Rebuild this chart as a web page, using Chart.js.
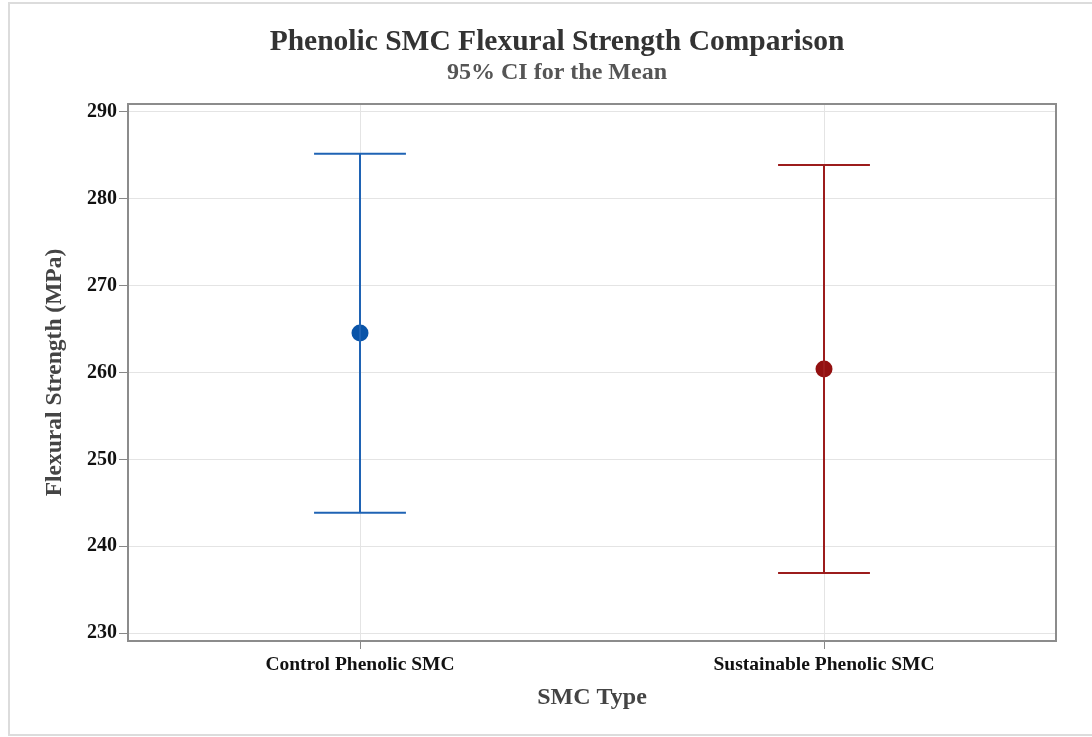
<!DOCTYPE html>
<html>
<head>
<meta charset="utf-8">
<script src="https://cdn.jsdelivr.net/npm/chart.js@4.4.0/dist/chart.umd.min.js"></script>
<style>
  html, body { margin: 0; padding: 0; background: #fff; }
  #wrap { width: 1092px; height: 737px; }
</style>
</head>
<body>
<div id="wrap"><canvas id="chart" width="1092" height="737"></canvas></div>
<script>
// données
const categories = ['Control Phenolic SMC', 'Sustainable Phenolic SMC'];
const moyennes = [264.55, 260.4];
const bornesBasses = [243.85, 236.9];
const bornesHautes = [285.2, 283.9];
const couleurs = ['#1f63b4', '#9c1c1c'];
const couleursPoint = ['#0a54a8', '#931010'];
const yTicks = [230, 240, 250, 260, 270, 280, 290];

const demiCapuchon = 0.099; // demi-largeur des barres d'erreur, en unité de catégorie

// un jeu de données par élément (trait vertical, capuchons, point moyen)
const datasets = [];
categories.forEach((cat, i) => {
  datasets.push({
    type: 'line',
    data: [{ x: i, y: bornesBasses[i] }, { x: i, y: bornesHautes[i] }],
    borderColor: couleurs[i], borderWidth: 2, pointRadius: 0, fill: false
  });
  datasets.push({
    type: 'line',
    data: [{ x: i - demiCapuchon, y: bornesHautes[i] }, { x: i + demiCapuchon, y: bornesHautes[i] }],
    borderColor: couleurs[i], borderWidth: 2, pointRadius: 0, fill: false
  });
  datasets.push({
    type: 'line',
    data: [{ x: i - demiCapuchon, y: bornesBasses[i] }, { x: i + demiCapuchon, y: bornesBasses[i] }],
    borderColor: couleurs[i], borderWidth: 2, pointRadius: 0, fill: false
  });
  datasets.push({
    type: 'scatter',
    data: [{ x: i, y: moyennes[i] }],
    pointStyle: 'circle', pointRadius: 8.5,
    backgroundColor: couleursPoint[i], borderColor: couleursPoint[i], borderWidth: 0
  });
});

// cadre autour de la zone de tracé + bordure extérieure claire
const cadre = {
  id: 'cadre',
  beforeDraw(chart) {
    const ctx = chart.ctx;
    ctx.save();
    ctx.fillStyle = '#fff';
    ctx.fillRect(0, 0, chart.width, chart.height);
    ctx.strokeStyle = '#dcdcdc';
    ctx.lineWidth = 2;
    ctx.strokeRect(9, 3, chart.width + 10, chart.height - 5);
    ctx.restore();
  },
  afterDraw(chart) {
    const a = chart.chartArea;
    const ctx = chart.ctx;
    ctx.save();
    ctx.strokeStyle = '#8c8c8c';
    ctx.lineWidth = 2;
    ctx.strokeRect(a.left, a.top, a.right - a.left, a.bottom - a.top);
    ctx.restore();
  }
};

new Chart(document.getElementById('chart').getContext('2d'), {
  data: { datasets },
  options: {
    responsive: false,
    animation: false,
    layout: { padding: { left: 58, right: 36, top: 0, bottom: 15 } },
    plugins: {
      legend: { display: false },
      tooltip: { enabled: false },
      title: {
        display: true,
        text: 'Phenolic SMC Flexural Strength Comparison',
        color: '#333',
        font: { family: 'Liberation Serif', size: 29.5, weight: 'bold' },
        padding: { top: 25, bottom: -2 }
      },
      subtitle: {
        display: true,
        text: '95% CI for the Mean',
        color: '#555',
        font: { family: 'Liberation Serif', size: 24, weight: 'bold' },
        padding: { top: 0, bottom: 16.8 }
      }
    },
    scales: {
      x: {
        type: 'linear',
        min: -0.5,
        max: 1.5,
        afterBuildTicks: (s) => { s.ticks = categories.map((c, i) => ({ value: i })); },
        afterFit: (s) => { s.height = 81; },
        ticks: {
          callback: (v) => categories[v],
          color: '#111',
          font: { family: 'Liberation Serif', size: 19.5, weight: 'bold' },
          padding: 4,
          maxRotation: 0
        },
        grid: { color: '#e4e4e4', lineWidth: 1, tickLength: 8, tickColor: '#888' },
        border: { display: false },
        title: {
          display: true,
          text: 'SMC Type',
          color: '#444',
          font: { family: 'Liberation Serif', size: 24, weight: 'bold' },
          padding: { top: 0, bottom: 10 }
        }
      },
      y: {
        min: 229.08,
        max: 290.92,
        afterBuildTicks: (s) => { s.ticks = yTicks.map(v => ({ value: v })); },
        afterFit: (s) => { s.width = 70; },
        ticks: {
          color: '#111',
          font: { family: 'Liberation Serif', size: 20, weight: 'bold' },
          padding: 2
        },
        grid: { color: '#e4e4e4', lineWidth: 1, tickLength: 9, tickColor: '#888' },
        border: { display: false },
        title: {
          display: true,
          text: 'Flexural Strength (MPa)',
          color: '#444',
          font: { family: 'Liberation Serif', size: 23.5, weight: 'bold' },
          padding: { top: -17, bottom: 0 }
        }
      }
    }
  },
  plugins: [cadre]
});
</script>
</body>
</html>
